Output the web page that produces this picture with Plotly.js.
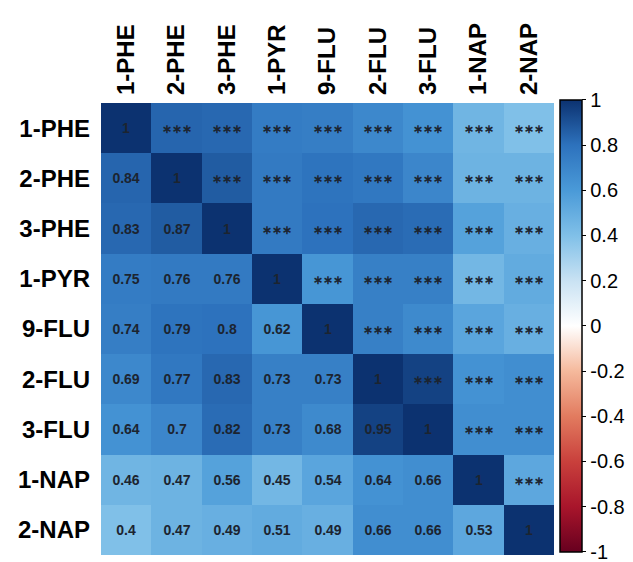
<!DOCTYPE html>
<html>
<head>
<meta charset="utf-8">
<script src="https://cdn.plot.ly/plotly-3.0.1.min.js"></script>
<style>html,body{margin:0;padding:0;background:#fff;}#chart{width:633px;height:562px;}</style>
</head>
<body>
<div id="chart"></div>
<script>
const labels = ['1-PHE','2-PHE','3-PHE','1-PYR','9-FLU','2-FLU','3-FLU','1-NAP','2-NAP'];
// lower triangle correlation coefficients (row i, columns 0..i-1)
const lowerTri = [
  [],
  [0.84],
  [0.83, 0.87],
  [0.75, 0.76, 0.76],
  [0.74, 0.79, 0.8, 0.62],
  [0.69, 0.77, 0.83, 0.73, 0.73],
  [0.64, 0.7, 0.82, 0.73, 0.68, 0.95],
  [0.46, 0.47, 0.56, 0.45, 0.54, 0.64, 0.66],
  [0.4, 0.47, 0.49, 0.51, 0.49, 0.66, 0.66, 0.53]
];
const sigMark = '***';
const cbTickVals = [1, 0.8, 0.6, 0.4, 0.2, 0, -0.2, -0.4, -0.6, -0.8, -1];
const cbTickText = ['1','0.8','0.6','0.4','0.2','0','-0.2','-0.4','-0.6','-0.8','-1'];

const n = labels.length;
const z = [], txt = [];
for (let i = 0; i < n; i++) {
  z.push([]); txt.push([]);
  for (let j = 0; j < n; j++) {
    let v, t;
    if (i === j) { v = 1; t = '1'; }
    else if (j < i) { v = lowerTri[i][j]; t = String(v); }
    else { v = lowerTri[j][i]; t = '<span style="font-size:12px">' + sigMark.replace(/\*/g, '\u2217') + '</span>'; }
    z[i].push(v); txt[i].push(t);
  }
}

const colorscale = [
  [0.0, '#67001f'],
  [0.1, '#a8152b'],
  [0.2, '#c9403c'],
  [0.3, '#e27b5f'],
  [0.4, '#f5b99c'],
  [0.5, '#ffffff'],
  [0.6, '#c9e2f3'],
  [0.7, '#80c0e8'],
  [0.8, '#4a9ad8'],
  [0.9, '#2d72bd'],
  [1.0, '#0c3270']
];

const trace = {
  type: 'heatmap',
  x: labels,
  y: labels,
  z: z,
  text: txt,
  texttemplate: '<b>%{text}</b>',
  textfont: {family: 'Liberation Sans, Arial, sans-serif', size: 14, color: '#1c2430'},
  zmin: -1, zmax: 1,
  colorscale: colorscale,
  hoverinfo: 'skip',
  colorbar: {
    x: 1.013, xanchor: 'left', xpad: 0,
    y: 1.007, yanchor: 'top', ypad: 0,
    len: 1.0, lenmode: 'fraction',
    thickness: 22,
    outlinewidth: 1.5, outlinecolor: '#000',
    tickmode: 'array', tickvals: cbTickVals, ticktext: cbTickText,
    ticks: 'outside', ticklen: 4, tickcolor: '#000',
    ticklabeloverflow: 'allow',
    tickfont: {family: 'Liberation Sans, Arial, sans-serif', size: 20, color: '#000'}
  }
};

const layout = {
  width: 633, height: 562,
  margin: {l: 101, r: 66, t: 103, b: 7, pad: 0},
  paper_bgcolor: '#fff', plot_bgcolor: '#fff',
  xaxis: {
    side: 'top', tickangle: -90, type: 'category',
    tickfont: {family: 'Liberation Sans, Arial, sans-serif', size: 24, color: '#000', weight: 'bold'},
    ticklabelstandoff: 7,
    showgrid: false, zeroline: false, ticks: '', ticklen: 0
  },
  yaxis: {
    autorange: 'reversed', type: 'category',
    tickfont: {family: 'Liberation Sans, Arial, sans-serif', size: 24, color: '#000', weight: 'bold'},
    ticklabelstandoff: 10,
    showgrid: false, zeroline: false, ticks: '', ticklen: 0
  }
};

Plotly.newPlot('chart', [trace], layout, {displayModeBar: false, staticPlot: true});
</script>
</body>
</html>
